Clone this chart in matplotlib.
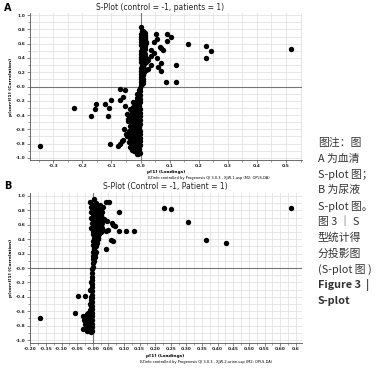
import matplotlib
matplotlib.use("Agg")
import matplotlib.pyplot as plt
from matplotlib.ticker import MultipleLocator

# ---------------- Panel A data (serum) ----------------
a_band_pos_x = [0.002, 0.001, 0.003, 0.002, 0.001, 0.003, 0.002, 0.004, 0.002, 0.003, 0.001, 0.003, 0.002, 0.004,
                0.002, 0.003, 0.001, 0.003, 0.002, 0.004, 0.002,
                0.006, 0.007, 0.006, 0.008, 0.007, 0.006, 0.008, 0.007, 0.006, 0.008, 0.007, 0.006, 0.008,
                0.007, 0.006, 0.008, 0.007,
                0.009, 0.010, 0.008, 0.011, 0.009, 0.012, 0.010, 0.011, 0.013, 0.012, 0.014, 0.013, 0.015, 0.012,
                0.016, 0.018, 0.017, 0.015, 0.016, 0.014, 0.017, 0.019, 0.018]
a_band_pos_y = [0.02, 0.06, 0.10, 0.14, 0.18, 0.22, 0.26, 0.30, 0.34, 0.38, 0.42, 0.46, 0.50, 0.54,
                0.58, 0.62, 0.66, 0.70, 0.74, 0.78, 0.83,
                0.04, 0.08, 0.12, 0.16, 0.20, 0.24, 0.28, 0.32, 0.36, 0.40, 0.44, 0.48, 0.52,
                0.56, 0.60, 0.64, 0.68,
                0.05, 0.10, 0.16, 0.21, 0.27, 0.32, 0.38, 0.44, 0.49, 0.55, 0.60, 0.66, 0.71, 0.77,
                0.52, 0.62, 0.72, 0.45, 0.57, 0.67, 0.75, 0.40, 0.35]
a_band_neg_x = [-0.002, -0.003, -0.001, -0.003, -0.002, -0.004, -0.002, -0.003, -0.001, -0.003, -0.002, -0.004,
                -0.002, -0.003, -0.001, -0.003, -0.002, -0.004, -0.002,
                -0.007, -0.008, -0.007, -0.009, -0.008, -0.007, -0.009, -0.008, -0.007, -0.009, -0.008,
                -0.007, -0.009, -0.008, -0.007, -0.009, -0.008, -0.007,
                -0.011, -0.012, -0.014, -0.013, -0.015, -0.014, -0.016, -0.015, -0.017, -0.016, -0.018, -0.017,
                -0.016, -0.015, -0.014, -0.012,
                -0.020, -0.021, -0.022, -0.020, -0.023, -0.021, -0.022, -0.020, -0.021, -0.022, -0.020,
                -0.025, -0.027, -0.026, -0.028, -0.029, -0.027, -0.030, -0.028, -0.026, -0.029, -0.027, -0.024,
                -0.032, -0.033, -0.031, -0.034, -0.032, -0.033, -0.031,
                -0.036, -0.038, -0.037, -0.039, -0.036, -0.040, -0.035, -0.042, -0.044]
a_band_neg_y = [-0.02, -0.07, -0.12, -0.17, -0.22, -0.27, -0.32, -0.37, -0.42, -0.47, -0.52, -0.57,
                -0.62, -0.67, -0.72, -0.77, -0.82, -0.87, -0.93,
                -0.05, -0.10, -0.15, -0.20, -0.25, -0.30, -0.35, -0.40, -0.45, -0.50, -0.55,
                -0.60, -0.65, -0.70, -0.75, -0.80, -0.85, -0.90,
                -0.10, -0.16, -0.22, -0.28, -0.34, -0.40, -0.46, -0.52, -0.58, -0.64, -0.70, -0.76,
                -0.81, -0.86, -0.90, -0.94,
                -0.25, -0.32, -0.39, -0.47, -0.54, -0.61, -0.68, -0.74, -0.79, -0.84, -0.88,
                -0.22, -0.29, -0.36, -0.43, -0.50, -0.57, -0.64, -0.70, -0.76, -0.81, -0.86, -0.90,
                -0.38, -0.46, -0.53, -0.60, -0.67, -0.74, -0.80,
                -0.32, -0.40, -0.55, -0.63, -0.72, -0.78, -0.85, -0.48, -0.68]
a_out_x = [0.008, 0.012, 0.054, 0.045, 0.057, 0.015, 0.020, 0.037, 0.066, 0.077, 0.072, 0.092, 0.103, 0.090,
           0.163, 0.123, 0.089, 0.123, 0.072, 0.057, 0.045, 0.035, 0.026, 0.037, 0.026, 0.072, 0.060, 0.020,
           0.226, 0.241, 0.226, 0.517,
           -0.345, -0.228, -0.153, -0.155, -0.170, -0.121, -0.110, -0.113, -0.103, -0.104, -0.072, -0.052,
           -0.078, -0.070, -0.064, -0.060, -0.072, -0.060, -0.053, -0.048, -0.043, -0.029, -0.020, -0.010,
           -0.058, -0.050, -0.046]
a_out_y = [0.78, 0.75, 0.74, 0.63, 0.66, 0.68, 0.61, 0.51, 0.56, 0.51, 0.54, 0.74, 0.69, 0.64,
           0.60, 0.30, 0.07, 0.07, 0.33, 0.40, 0.47, 0.43, 0.37, 0.30, 0.25, 0.22, 0.28, 0.23,
           0.566, 0.50, 0.40, 0.53,
           -0.83, -0.30, -0.25, -0.32, -0.42, -0.25, -0.30, -0.42, -0.19, -0.81, -0.04, -0.05,
           -0.83, -0.80, -0.77, -0.75, -0.19, -0.15, -0.28, -0.38, -0.46, -0.89, -0.91, -0.94,
           -0.60, -0.66, -0.70]

# ---------------- Panel B data (urine) ----------------
b_band_pos_x = [0.001, 0.002, 0.000, 0.002, 0.001, 0.003, 0.002, 0.001, 0.003, 0.002, 0.000, 0.002,
                0.001, 0.003, 0.002, 0.001, 0.003, 0.002, 0.004,
                0.005, 0.006, 0.005, 0.007, 0.006, 0.005, 0.007, 0.006, 0.005, 0.007, 0.006, 0.005,
                0.008, 0.009, 0.010, 0.011, 0.012, 0.012, 0.013, 0.014, 0.013, 0.012, 0.011, 0.010,
                0.015, 0.016, 0.017, 0.016, 0.015, 0.017, 0.016,
                0.018, 0.020, 0.022, 0.024, 0.023, 0.021, 0.019, 0.022,
                0.026, 0.027, 0.025, 0.027, 0.026,
                0.028, 0.030, 0.031, 0.029, 0.033,
                -0.006, -0.007, -0.005, -0.008, -0.004, -0.005]
b_band_pos_y = [0.02, 0.07, 0.12, 0.17, 0.22, 0.27, 0.32, 0.37, 0.42, 0.47, 0.52, 0.57,
                0.62, 0.67, 0.72, 0.77, 0.82, 0.87, 0.95,
                0.10, 0.19, 0.28, 0.34, 0.40, 0.46, 0.53, 0.60, 0.66, 0.73, 0.80, 0.88,
                0.15, 0.22, 0.30, 0.37, 0.44, 0.51, 0.58, 0.65, 0.72, 0.78, 0.84, 0.90,
                0.35, 0.42, 0.49, 0.56, 0.63, 0.70, 0.80,
                0.40, 0.47, 0.54, 0.61, 0.68, 0.75, 0.82, 0.88,
                0.50, 0.58, 0.66, 0.74, 0.81,
                0.55, 0.62, 0.70, 0.78, 0.85,
                0.70, 0.78, 0.85, 0.92, 0.62, 0.55]
b_band_neg_x = [-0.002, -0.003, -0.001, -0.003, -0.002, -0.003, -0.001, -0.003, -0.002, -0.003, -0.002,
                -0.003, -0.002, -0.003, -0.001, -0.003, -0.002, -0.003,
                -0.005, -0.006, -0.005, -0.006, -0.005, -0.006, -0.005, -0.006, -0.005,
                -0.007, -0.008, -0.007, -0.009, -0.008, -0.010, -0.009, -0.011, -0.012, -0.013,
                -0.015, -0.016, -0.015, -0.016,
                -0.018, -0.020, -0.022, -0.019, -0.017,
                -0.026, -0.028, -0.025, -0.030]
b_band_neg_y = [-0.02, -0.07, -0.12, -0.17, -0.22, -0.27, -0.32, -0.37, -0.42, -0.47, -0.52,
                -0.57, -0.62, -0.67, -0.72, -0.77, -0.82, -0.88,
                -0.45, -0.52, -0.58, -0.64, -0.69, -0.74, -0.79, -0.84, -0.89,
                -0.20, -0.30, -0.40, -0.50, -0.58, -0.65, -0.71, -0.77, -0.83, -0.88,
                -0.62, -0.70, -0.78, -0.86,
                -0.64, -0.70, -0.76, -0.82, -0.87,
                -0.66, -0.72, -0.78, -0.84]
b_out_x = [-0.170, -0.058, -0.047, -0.026, -0.030, -0.024, -0.022,
           0.042, 0.052, 0.083, 0.083, 0.108, 0.132, 0.042, 0.065, 0.058, 0.042, 0.050, 0.065, 0.070,
           0.044, 0.060, 0.035, 0.228, 0.249, 0.305, 0.364, 0.426, 0.635]
b_out_y = [-0.69, -0.63, -0.39, -0.39, -0.66, -0.70, -0.75,
           0.91, 0.91, 0.78, 0.51, 0.51, 0.51, 0.27, 0.37, 0.39, 0.51, 0.53, 0.60, 0.58,
           0.65, 0.63, 0.68, 0.83, 0.82, 0.64, 0.39, 0.34, 0.83]

# tick labels as printed
a_xticks = [-0.3, -0.2, -0.1, 0.0, 0.1, 0.2, 0.3, 0.4, 0.5]
a_xticklabels = ["-0.3", "-0.2", "-0.1", "-0.0", "0.1", "0.2", "0.3", "0.4", "0.5"]
b_xticks = [-0.20, -0.15, -0.10, -0.05, 0.0, 0.05, 0.10, 0.15, 0.20, 0.25, 0.30, 0.35, 0.40,
            0.45, 0.50, 0.55, 0.60, 0.65]
b_xticklabels = ["-0.20", "-0.15", "-0.10", "-0.05", "-0.00", "0.05", "0.10", "0.15", "0.20", "0.25",
                 "0.30", "0.35", "0.40", "0.45", "0.50", "0.55", "0.60", "0.6"]
yticks = [-1.0, -0.8, -0.6, -0.4, -0.2, 0.0, 0.2, 0.4, 0.6, 0.8, 1.0]
yticklabels = ["-1.0", "-0.8", "-0.6", "-0.4", "-0.2", "-0.0", "0.2", "0.4", "0.6", "0.8", "1.0"]

caption_lines = ["图注：图", "A 为血清", "S-plot 图；", "B 为尿液", "S-plot 图。", "图 3 ｜ S",
                 "型统计得", "分投影图", "(S-plot 图 )", "Figure 3  |", "S-plot"]
caption_bold = [False, False, False, False, False, False, False, False, False, True, True]

W, H = 389, 375
fig = plt.figure(figsize=(W / 100, H / 100), dpi=100)
fig.patch.set_facecolor("white")


def style_axes(ax, xlim, ylim, xticks, xlabels, xminor, yminor):
    ax.set_xlim(*xlim)
    ax.set_ylim(*ylim)
    ax.set_xticks(xticks)
    ax.set_xticklabels(xlabels)
    ax.set_yticks(yticks)
    ax.set_yticklabels(yticklabels)
    ax.xaxis.set_minor_locator(MultipleLocator(xminor))
    ax.yaxis.set_minor_locator(MultipleLocator(yminor))
    ax.grid(True, which="both", color="#e3e3e3", linewidth=0.6, zorder=0)
    ax.set_axisbelow(True)
    for s in ["top", "right"]:
        ax.spines[s].set_visible(False)
    for s in ["left", "bottom"]:
        ax.spines[s].set_color("#555555")
        ax.spines[s].set_linewidth(0.6)
    ax.tick_params(which="major", length=2.0, width=0.5, color="#555555", labelsize=3.2,
                   pad=1.0, labelcolor="#222222")
    ax.tick_params(which="minor", length=1.2, width=0.4, color="#555555")
    for lab in ax.get_xticklabels() + ax.get_yticklabels():
        lab.set_fontweight("bold")
    ax.axhline(0, color="#777777", linewidth=0.8, zorder=1)
    ax.axvline(0, color="#777777", linewidth=0.8, zorder=1)
    ax.set_ylabel("p(corr)[1] (Correlation)", fontsize=3.2, labelpad=2, fontweight="bold")


ms = 15
# Panel A
axA = fig.add_axes([30 / W, 1 - 160 / H, 272 / W, 147 / H])
style_axes(axA, (-0.38, 0.555), (-1.03, 1.03), a_xticks, a_xticklabels, 0.05, 0.1)
axA.scatter(a_band_pos_x, a_band_pos_y, s=ms, c="black", linewidths=0, zorder=3)
axA.scatter(a_band_neg_x, a_band_neg_y, s=ms, c="black", linewidths=0, zorder=3)
axA.scatter(a_out_x, a_out_y, s=ms, c="black", linewidths=0, zorder=3)
fig.text(160 / W, 1 - 7 / H, "S-Plot (control = -1, patients = 1)", fontsize=5.5, ha="center",
         va="center", color="#222222")
fig.text(8 / W, 1 - 8 / H, "A", fontsize=7, fontweight="bold", ha="center", va="center")
fig.text(166 / W, 1 - 172 / H, "p[1] (Loadings)", fontsize=3.2, ha="center", va="center",
         fontweight="bold")
fig.text(148 / W, 1 - 178 / H, "EZinfo controlled by Progenesis QI 3.0.3 - XJW-1.usp (M2: OPLS-DA)",
         fontsize=2.6, ha="left", va="center")

# Panel B
axB = fig.add_axes([30 / W, 1 - 343 / H, 272 / W, 150 / H])
style_axes(axB, (-0.201, 0.67), (-1.04, 1.04), b_xticks, b_xticklabels, 0.025, 0.1)
axB.scatter(b_band_pos_x, b_band_pos_y, s=ms, c="black", linewidths=0, zorder=3)
axB.scatter(b_band_neg_x, b_band_neg_y, s=ms, c="black", linewidths=0, zorder=3)
axB.scatter(b_out_x, b_out_y, s=ms, c="black", linewidths=0, zorder=3)
fig.text(165 / W, 1 - 187 / H, "S-Plot (Control = -1, Patient = 1)", fontsize=5.5, ha="center",
         va="center", color="#222222")
fig.text(8 / W, 1 - 186 / H, "B", fontsize=7, fontweight="bold", ha="center", va="center")
fig.text(165 / W, 1 - 356 / H, "p[1] (Loadings)", fontsize=3.2, ha="center", va="center",
         fontweight="bold")
fig.text(140 / W, 1 - 362 / H,
         "EZinfo controlled by Progenesis QI 3.0.3 - XJW-2-urine.usp (M2: OPLS-DA)",
         fontsize=2.6, ha="left", va="center")

# Caption on the right
fams = ["Noto Sans CJK SC", "DejaVu Sans"]
y0, dy = 143, 15.8
for i, (line, bold) in enumerate(zip(caption_lines, caption_bold)):
    fig.text(318 / W, 1 - (y0 + i * dy) / H, line, fontsize=7.8, family=fams,
             fontweight="bold" if bold else "normal", color="#333333", ha="left", va="center")

fig.savefig("out.png", dpi=100, facecolor="white")
